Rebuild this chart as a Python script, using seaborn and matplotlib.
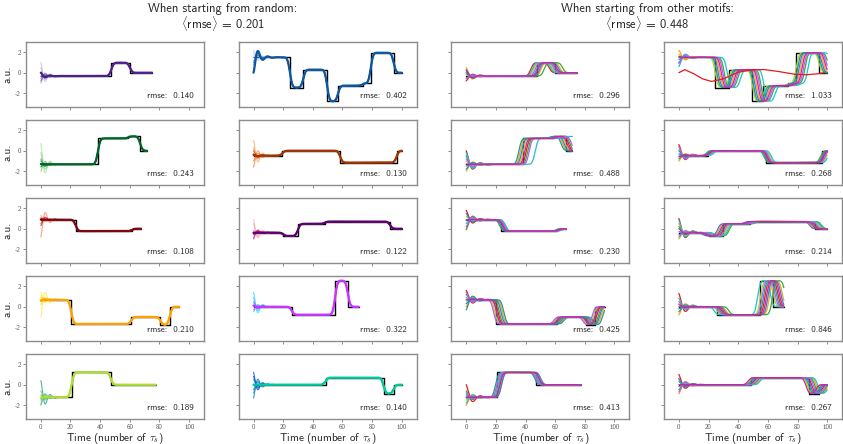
import numpy as np
import pandas as pd
import matplotlib
matplotlib.use("Agg")
import matplotlib.pyplot as plt
import seaborn as sns

# ---------------- target motifs (segment boundaries / levels) ----------------
purple_breaks = [0, 47.5, 60, 75]
purple_levels = [-0.32, 0.98, 0.0]

blue_breaks = [0, 24.5, 33.5, 49.5, 57, 73.5, 79, 94.5, 100]
blue_levels = [1.5, -1.45, 0.3, -2.8, -1.26, -1.03, 1.95, 0.0]

green_breaks = [0, 38.5, 59, 67, 71.5]
green_levels = [-1.33, 1.2, 1.4, 0.0]

orange_breaks = [0, 19.5, 58.5, 96.5, 100]
orange_levels = [-0.48, 0.0, -1.16, 0.0]

red_breaks = [0, 23.5, 61.5, 67.5]
red_levels = [0.88, -0.23, 0.0]

rdpu_breaks = [0, 20, 30, 48, 92, 100]
rdpu_levels = [-0.38, -0.7, 0.48, 0.7, 0.0]

amber_breaks = [0, 20.4, 61, 80.6, 87, 93.3]
amber_levels = [0.68, -1.68, -1.0, -1.77, 0.0]

violet_breaks = [0, 25.7, 55, 63.7, 70.8]
violet_levels = [0.0, -0.78, 2.55, 0.0]

lime_breaks = [0, 20.8, 47.2, 77.5]
lime_levels = [-1.22, 1.2, 0.0]

teal_breaks = [0, 48.6, 87.7, 94.4, 100]
teal_levels = [0.0, 0.69, -0.87, 0.0]

# ---------------- starting values of the runs from random states ----------------
purple_starts = [1.0, 0.5, -1.0, -0.6, -0.3, -0.8, -0.4, 0.0]
blue_starts = [2.2, 1.8, 1.2, 0.8, 0.3, 1.5, 1.0, 0.0]
green_starts = [0.7, -0.2, -2.0, -1.5, -0.8, -1.0, -1.6, -1.3]
orange_starts = [1.0, 0.3, -1.6, -1.0, -0.3, -0.5, 0.0, -0.4]
red_starts = [1.3, -0.8, 1.1, 0.5, 1.0, 0.3, 0.9, 0.9]
rdpu_starts = [0.9, 0.5, -0.9, -0.2, -1.0, -0.6, -0.5, -0.4]
amber_starts = [1.4, -1.0, 1.1, 0.2, 0.5, 0.9, 0.7, 0.6]
violet_starts = [1.4, 0.9, -0.5, 0.3, -0.3, 0.5, 0.0, 0.1]
lime_starts = [0.4, -2.0, -1.5, -1.0, -0.6, -1.8, -1.2, -1.3]
teal_starts = [1.2, 0.8, -1.3, -0.5, 0.5, -0.8, 0.0, 0.0]

# ---------------- runs started from the other motifs: delays and start values ----------------
purple_other_delays = [-4, 3, -2, 5, 0, -3, 2, -1, 1]
purple_other_starts = [-0.8, 0.5, -0.2, -0.5, 0.3, -0.1, 0.0, -0.6, 0.2]
blue_other_delays = [3, 0, 6, 1, 8, 2, 5, 4]
blue_other_starts = [2.2, 1.8, 1.5, 1.0, 0.6, 1.3, 0.9, 1.6]
green_other_delays = [2, -2, 0, 3, -3, 8, -1, 4, 1]
green_other_starts = [0.0, -1.0, -2.0, -1.5, -0.5, -0.2, -1.8, -0.8, -1.3]
orange_other_delays = [1, 0, 3, -1, 2, 4, 0, 2, 1]
orange_other_starts = [0.6, -1.0, 0.2, -0.8, 0.0, -0.5, -0.3, 0.4, -0.6]
red_other_delays = [2, 0, 3, -1, 1, 3, 0, 2, 1]
red_other_starts = [1.8, 0.0, 1.2, -0.1, 0.9, 0.5, 1.5, 0.2, 0.8]
rdpu_other_delays = [0, -3, 2, 4, -1, 3, -4, 1, -2]
rdpu_other_starts = [1.0, 0.5, -1.0, 0.2, -0.6, 0.8, -0.3, -0.8, 0.0]
amber_other_delays = [1, 4, -1, 2, 5, 0, 3, -2, 0]
amber_other_starts = [1.6, 0.0, 0.6, 1.2, -0.3, 0.9, 0.3, 1.4, 0.7]
violet_other_delays = [3, 6, 0, 8, 2, -2, 5, 1, 4]
violet_other_starts = [1.3, -0.8, 0.3, 0.0, -0.5, 0.8, -0.2, 0.5, 0.2]
lime_other_delays = [1, 3, 0, 2, -1, 1, 3, 0, 2]
lime_other_starts = [0.0, -2.0, -1.5, -0.6, -1.0, -1.8, -1.3, -0.8, -1.2]
teal_other_delays = [2, 5, -1, 4, 0, 6, 1, 3, -2]
teal_other_starts = [1.0, -0.9, 0.5, -0.5, 0.3, -0.2, 0.6, -0.7, 0.0]

# one run that never locked onto the blue motif
stray_t = [0, 4, 10, 16, 22, 30, 40, 50, 58, 68, 78, 86, 94, 98]
stray_y = [0, 0.3, -0.1, -0.6, -0.85, -0.6, 0.05, 0.3, 0.3, 0.1, -0.15, -0.2, -0.1, 0.0]

rmse_random = ["0.140", "0.402", "0.243", "0.130", "0.108",
               "0.122", "0.210", "0.322", "0.189", "0.140"]
rmse_other = ["0.296", "1.033", "0.488", "0.268", "0.230",
              "0.214", "0.425", "0.846", "0.413", "0.267"]
mean_rmse_random = "0.201"
mean_rmse_other = "0.448"

motifs = [
    (purple_breaks, purple_levels, purple_starts, "Purples", purple_other_delays, purple_other_starts),
    (blue_breaks, blue_levels, blue_starts, "Blues", blue_other_delays, blue_other_starts),
    (green_breaks, green_levels, green_starts, "Greens", green_other_delays, green_other_starts),
    (orange_breaks, orange_levels, orange_starts, "Oranges", orange_other_delays, orange_other_starts),
    (red_breaks, red_levels, red_starts, "Reds", red_other_delays, red_other_starts),
    (rdpu_breaks, rdpu_levels, rdpu_starts, "RdPu", rdpu_other_delays, rdpu_other_starts),
    (amber_breaks, amber_levels, amber_starts, "Wistia", amber_other_delays, amber_other_starts),
    (violet_breaks, violet_levels, violet_starts, "cool", violet_other_delays, violet_other_starts),
    (lime_breaks, lime_levels, lime_starts, "viridis", lime_other_delays, lime_other_starts),
    (teal_breaks, teal_levels, teal_starts, "winter", teal_other_delays, teal_other_starts),
]
cmap_ranges = {"Purples": (0.35, 0.9), "Blues": (0.3, 0.85), "Greens": (0.35, 0.9),
               "Oranges": (0.4, 0.9), "Reds": (0.35, 0.95), "RdPu": (0.3, 0.95),
               "Wistia": (0.1, 0.75), "cool": (0.15, 0.8), "viridis": (0.55, 0.88),
               "winter": (0.2, 0.8)}
other_palette = ["#e41a1c", "#ff9f1a", "#b5cf1f", "#3aa83a", "#1b9e8a",
                 "#22c3c3", "#3a7bd5", "#b35cff", "#d61f9a"]


def step_values(t, breaks, levels):
    idx = np.searchsorted(breaks, t, side="right") - 1
    idx = np.clip(idx, 0, len(levels) - 1)
    return np.asarray(levels)[idx]


def response(breaks, levels, delay, start, sigma=1.3, tau=3.5, period=6.5, n=500):
    t = np.linspace(0, breaks[-1], n)
    dt = t[1] - t[0]
    pad = int(5 * sigma / dt) + 1
    tt = np.concatenate([t[0] - dt * np.arange(pad, 0, -1), t,
                         t[-1] + dt * np.arange(1, pad + 1)])
    target = step_values(tt - delay, breaks, levels)
    kx = np.arange(-pad, pad + 1) * dt
    k = np.exp(-0.5 * (kx / sigma) ** 2)
    k /= k.sum()
    smooth = np.convolve(target, k, mode="same")[pad:-pad]
    y = smooth + (start - smooth[0]) * np.exp(-t / tau) * np.cos(2 * np.pi * t / period)
    return t, y


sns.set_style("ticks")
plt.rcParams["font.family"] = ["cmss10", "DejaVu Sans"]
plt.rcParams["mathtext.fontset"] = "cm"
plt.rcParams["axes.unicode_minus"] = False
plt.rcParams["axes.edgecolor"] = "#8c8c8c"
plt.rcParams["xtick.color"] = "#8c8c8c"
plt.rcParams["ytick.color"] = "#8c8c8c"
plt.rcParams["xtick.labelcolor"] = "#555555"
plt.rcParams["ytick.labelcolor"] = "#555555"

fig = plt.figure(figsize=(8.43, 4.44), dpi=100)
gs = fig.add_gridspec(5, 4, left=26 / 843, right=842 / 843, top=1 - 42 / 444,
                      bottom=1 - 419 / 444, wspace=0.195, hspace=0.2)


def style_axis(ax, row, col):
    ax.set_xlim(-10, 110)
    ax.set_ylim(-3.35, 3.0)
    ax.set_xticks([0, 20, 40, 60, 80, 100])
    ax.set_yticks([-2, 0, 2])
    ax.tick_params(labelsize=5, length=2.5, width=0.7, pad=1.0)
    for s in ax.spines.values():
        s.set_linewidth(1.0)
        s.set_color("#8c8c8c")
    if row < 4:
        ax.set_xticklabels([])
        ax.set_xlabel("")
    else:
        ax.set_xlabel(r"Time (number of $\tau_s$)", fontsize=8, labelpad=0.5)
    if col > 0:
        ax.set_yticklabels([])
        ax.set_ylabel("")
    else:
        ax.set_ylabel("a.u.", fontsize=8, labelpad=2)


def draw_target(ax, breaks, levels):
    xs = list(breaks)
    ys = list(levels) + [levels[-1]]
    sns.lineplot(x=xs, y=ys, drawstyle="steps-post", color="black", lw=1.0,
                 ax=ax, estimator=None, sort=False)


for m, (breaks, levels, starts, cmap_name, odel, ostart) in enumerate(motifs):
    row, col = m // 2, m % 2

    # runs from random initial states
    ax = fig.add_subplot(gs[row, col])
    draw_target(ax, breaks, levels)
    lo, hi = cmap_ranges[cmap_name]
    cmap = plt.get_cmap(cmap_name)
    frames = []
    for i, s in enumerate(starts):
        t, y = response(breaks, levels, 0.0, s)
        frames.append(pd.DataFrame({"t": t, "y": y, "run": i}))
    df = pd.concat(frames)
    cols = [cmap(v) for v in np.linspace(lo, hi, len(starts))]
    last = len(starts) - 1
    sns.lineplot(data=df[df.run < last], x="t", y="y", hue="run", units="run",
                 estimator=None, palette=cols[:-1], legend=False, lw=0.8,
                 alpha=0.75, sort=False, ax=ax)
    sns.lineplot(data=df[df.run == last], x="t", y="y", color=cols[-1],
                 estimator=None, lw=1.6, sort=False, ax=ax)
    ax.text(0.945, 0.17, "rmse:  " + rmse_random[m], transform=ax.transAxes,
            ha="right", va="center", fontsize=6.5)
    style_axis(ax, row, col)

    # runs started from the other motifs
    ax = fig.add_subplot(gs[row, col + 2])
    draw_target(ax, breaks, levels)
    frames = []
    for i, (d, s) in enumerate(zip(odel, ostart)):
        t, y = response(breaks, levels, d, s, sigma=1.5, tau=4.5, period=10.0)
        frames.append(pd.DataFrame({"t": t, "y": y, "run": i}))
    if m == 1:
        frames.insert(0, pd.DataFrame({"t": stray_t, "y": stray_y, "run": 99}))
    df = pd.concat(frames)
    runs = list(dict.fromkeys(df.run))
    pal = {r: other_palette[k % len(other_palette)] for k, r in enumerate(runs)}
    sns.lineplot(data=df, x="t", y="y", hue="run", units="run", estimator=None,
                 palette=pal, legend=False, lw=0.9, sort=False, ax=ax)
    ax.text(0.945, 0.17, "rmse:  " + rmse_other[m], transform=ax.transAxes,
            ha="right", va="center", fontsize=6.5)
    style_axis(ax, row, col + 2)

fig.text(223 / 843, 1 - 9 / 444, "When starting from random:",
         ha="center", va="center", fontsize=9)
fig.text(223 / 843, 1 - 23.5 / 444, r"$\langle$rmse$\rangle$ = " + mean_rmse_random,
         ha="center", va="center", fontsize=9)
fig.text(647 / 843, 1 - 9 / 444, "When starting from other motifs:",
         ha="center", va="center", fontsize=9)
fig.text(647 / 843, 1 - 23.5 / 444, r"$\langle$rmse$\rangle$ = " + mean_rmse_other,
         ha="center", va="center", fontsize=9)

fig.savefig("out.png", dpi=100)
